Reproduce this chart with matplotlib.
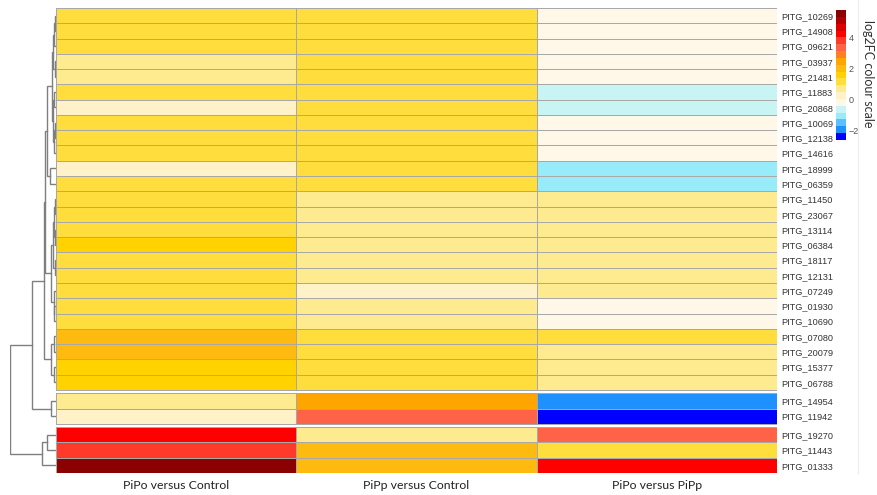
import numpy as np
import matplotlib
matplotlib.use("Agg")
import matplotlib.pyplot as plt
from matplotlib.colors import ListedColormap, BoundaryNorm
from matplotlib.cm import ScalarMappable
from matplotlib.lines import Line2D

genes = ["PITG_10269", "PITG_14908", "PITG_09621", "PITG_03937", "PITG_21481",
         "PITG_11883", "PITG_20868", "PITG_10069", "PITG_12138", "PITG_14616",
         "PITG_18999", "PITG_06359", "PITG_11450", "PITG_23067", "PITG_13114",
         "PITG_06384", "PITG_18117", "PITG_12131", "PITG_07249", "PITG_01930",
         "PITG_10690", "PITG_07080", "PITG_20079", "PITG_15377", "PITG_06788",
         "PITG_14954", "PITG_11942", "PITG_19270", "PITG_11443", "PITG_01333"]

comparisons = ["PiPo versus Control", "PiPp versus Control", "PiPo versus PiPp"]

# log2 fold changes, one list per comparison (same row order as genes)
pipo_vs_control = [1.2, 1.2, 1.2, 0.75, 0.75, 1.2, 0.3, 1.2, 1.2, 1.2,
                   0.3, 1.2, 1.2, 1.2, 1.2, 1.6, 1.2, 1.2, 1.2, 1.2,
                   1.2, 2.0, 2.0, 1.6, 1.6, 0.75, 0.3, 4.25, 3.8, 5.6]
pipp_vs_control = [1.2, 1.2, 1.2, 1.2, 1.2, 1.2, 1.2, 1.2, 1.2, 1.2,
                   1.2, 1.2, 0.75, 0.75, 0.75, 0.75, 0.75, 0.75, 0.3, 0.75,
                   0.75, 1.2, 1.2, 1.2, 1.2, 2.5, 3.4, 0.75, 2.0, 2.0]
pipo_vs_pipp = [-0.15, -0.15, -0.15, -0.15, -0.15, -0.6, -0.6, -0.15, -0.15, -0.15,
                -1.05, -1.05, 0.75, 0.75, 0.75, 0.75, 0.75, 0.75, 0.75, -0.15,
                -0.15, 1.2, 0.75, 0.75, 0.75, -1.95, -2.4, 3.4, 1.2, 4.25]

# rows per cluster after cutting the tree
cluster_sizes = [25, 2, 3]

# row dendrogram: (left, right, height); leaves are 0..29, new nodes get 30, 31, ...
merges = [
    (0, 1, 1.0),     # 30
    (30, 2, 1.5),    # 31
    (3, 4, 1.2),     # 32
    (31, 32, 2.5),   # 33
    (5, 6, 1.8),     # 34
    (7, 8, 1.0),     # 35
    (35, 9, 1.6),    # 36
    (34, 36, 2.8),   # 37
    (33, 37, 4.0),   # 38
    (10, 11, 6.0),   # 39
    (38, 39, 9.0),   # 40
    (12, 13, 1.0),   # 41
    (14, 15, 1.3),   # 42
    (41, 42, 2.0),   # 43
    (16, 17, 1.2),   # 44
    (43, 44, 2.8),   # 45
    (19, 20, 1.5),   # 46
    (18, 46, 2.2),   # 47
    (45, 47, 4.5),   # 48
    (40, 48, 11.0),  # 49
    (21, 22, 2.0),   # 50
    (23, 24, 1.5),   # 51
    (50, 51, 5.0),   # 52
    (49, 52, 12.0),  # 53
    (25, 26, 4.5),   # 54
    (53, 54, 23.0),  # 55
    (27, 28, 9.0),   # 56
    (56, 29, 14.0),  # 57
    (55, 57, 45.0),  # 58
]

colors = ["#0000FF", "#1E90FF", "#5CBFFF", "#98ECFA", "#C8F4F4", "#FFF7E8",
          "#FFF1C8", "#FFEB8F", "#FFDD3C", "#FFD200", "#FFBA0F", "#FFA500",
          "#FF7F24", "#FF6347", "#FF3A2A", "#FF0000", "#DC0000", "#B00000",
          "#8B0000"]
bounds = np.linspace(-2.6, 5.8, len(colors) + 1)
cmap = ListedColormap(colors)
norm = BoundaryNorm(bounds, cmap.N)

W, H = 877, 495
fig = plt.figure(figsize=(W / 100, H / 100), dpi=100)


def px_axes(x0, y0, x1, y1):
    return fig.add_axes([x0 / W, 1 - y1 / H, (x1 - x0) / W, (y1 - y0) / H])


data = np.column_stack([pipo_vs_control, pipp_vs_control, pipo_vs_pipp])
n_rows = len(genes)
gap = 0.22

# row offsets with a gap between clusters
offsets = np.repeat(np.arange(len(cluster_sizes)) * gap, cluster_sizes)
row_top = np.arange(n_rows) + offsets
row_mid = row_top + 0.5
y_max = n_rows + gap * (len(cluster_sizes) - 1)

ax = px_axes(56, 8, 777, 473)
start = 0
for size in cluster_sizes:
    rows = slice(start, start + size)
    y_edges = np.append(row_top[rows], row_top[start + size - 1] + 1)
    ax.pcolormesh(np.arange(4), y_edges, data[rows], cmap=cmap, norm=norm,
                  edgecolors="#a8a8a8", linewidth=0.7)
    start += size
ax.set_xlim(0, 3)
ax.set_ylim(y_max, 0)
for s in ax.spines.values():
    s.set_visible(False)
ax.yaxis.tick_right()
ax.set_yticks(row_mid)
ax.set_yticklabels(genes, fontsize=6.6, color="#333333", family="Liberation Sans")
ax.set_xticks(np.arange(3) + 0.5)
ax.set_xticklabels(comparisons, fontsize=8.8, color="#222222", family="Lato")
ax.tick_params(length=0, pad=3)
ax.tick_params(axis="x", pad=5)

# row dendrogram
dax = px_axes(10, 8, 56, 473)
node_y = list(row_mid)
node_h = [0.0] * n_rows
for left, right, h in merges:
    yl, yr = node_y[left], node_y[right]
    dax.plot([node_h[left], h, h, node_h[right]], [yl, yl, yr, yr],
             color="#7f7f7f", linewidth=1.0, solid_joinstyle="miter")
    node_y.append((yl + yr) / 2)
    node_h.append(h)
dax.set_xlim(merges[-1][2], 0)
dax.set_ylim(y_max, 0)
dax.axis("off")

# colour key
cax = px_axes(836, 10, 846, 140)
cb = fig.colorbar(ScalarMappable(norm=norm, cmap=cmap), cax=cax,
                  ticks=[-2, 0, 2, 4])
cb.outline.set_visible(False)
cb.minorticks_off()
cb.ax.tick_params(which="both", length=0, width=0, pad=2)
for lbl in cb.ax.get_yticklabels():
    lbl.set_fontsize(6.5)
    lbl.set_color("#555555")
    lbl.set_family("Liberation Sans")
fig.text(868 / W, 1 - 74 / H, "log2FC colour scale", rotation=-90,
         ha="center", va="center", fontsize=9, color="#333333", family="Lato")

fig.add_artist(Line2D([858 / W, 858 / W], [1, 1 - 473 / H], color="#ececec",
                      linewidth=0.8))

fig.savefig("out.png", dpi=100)
